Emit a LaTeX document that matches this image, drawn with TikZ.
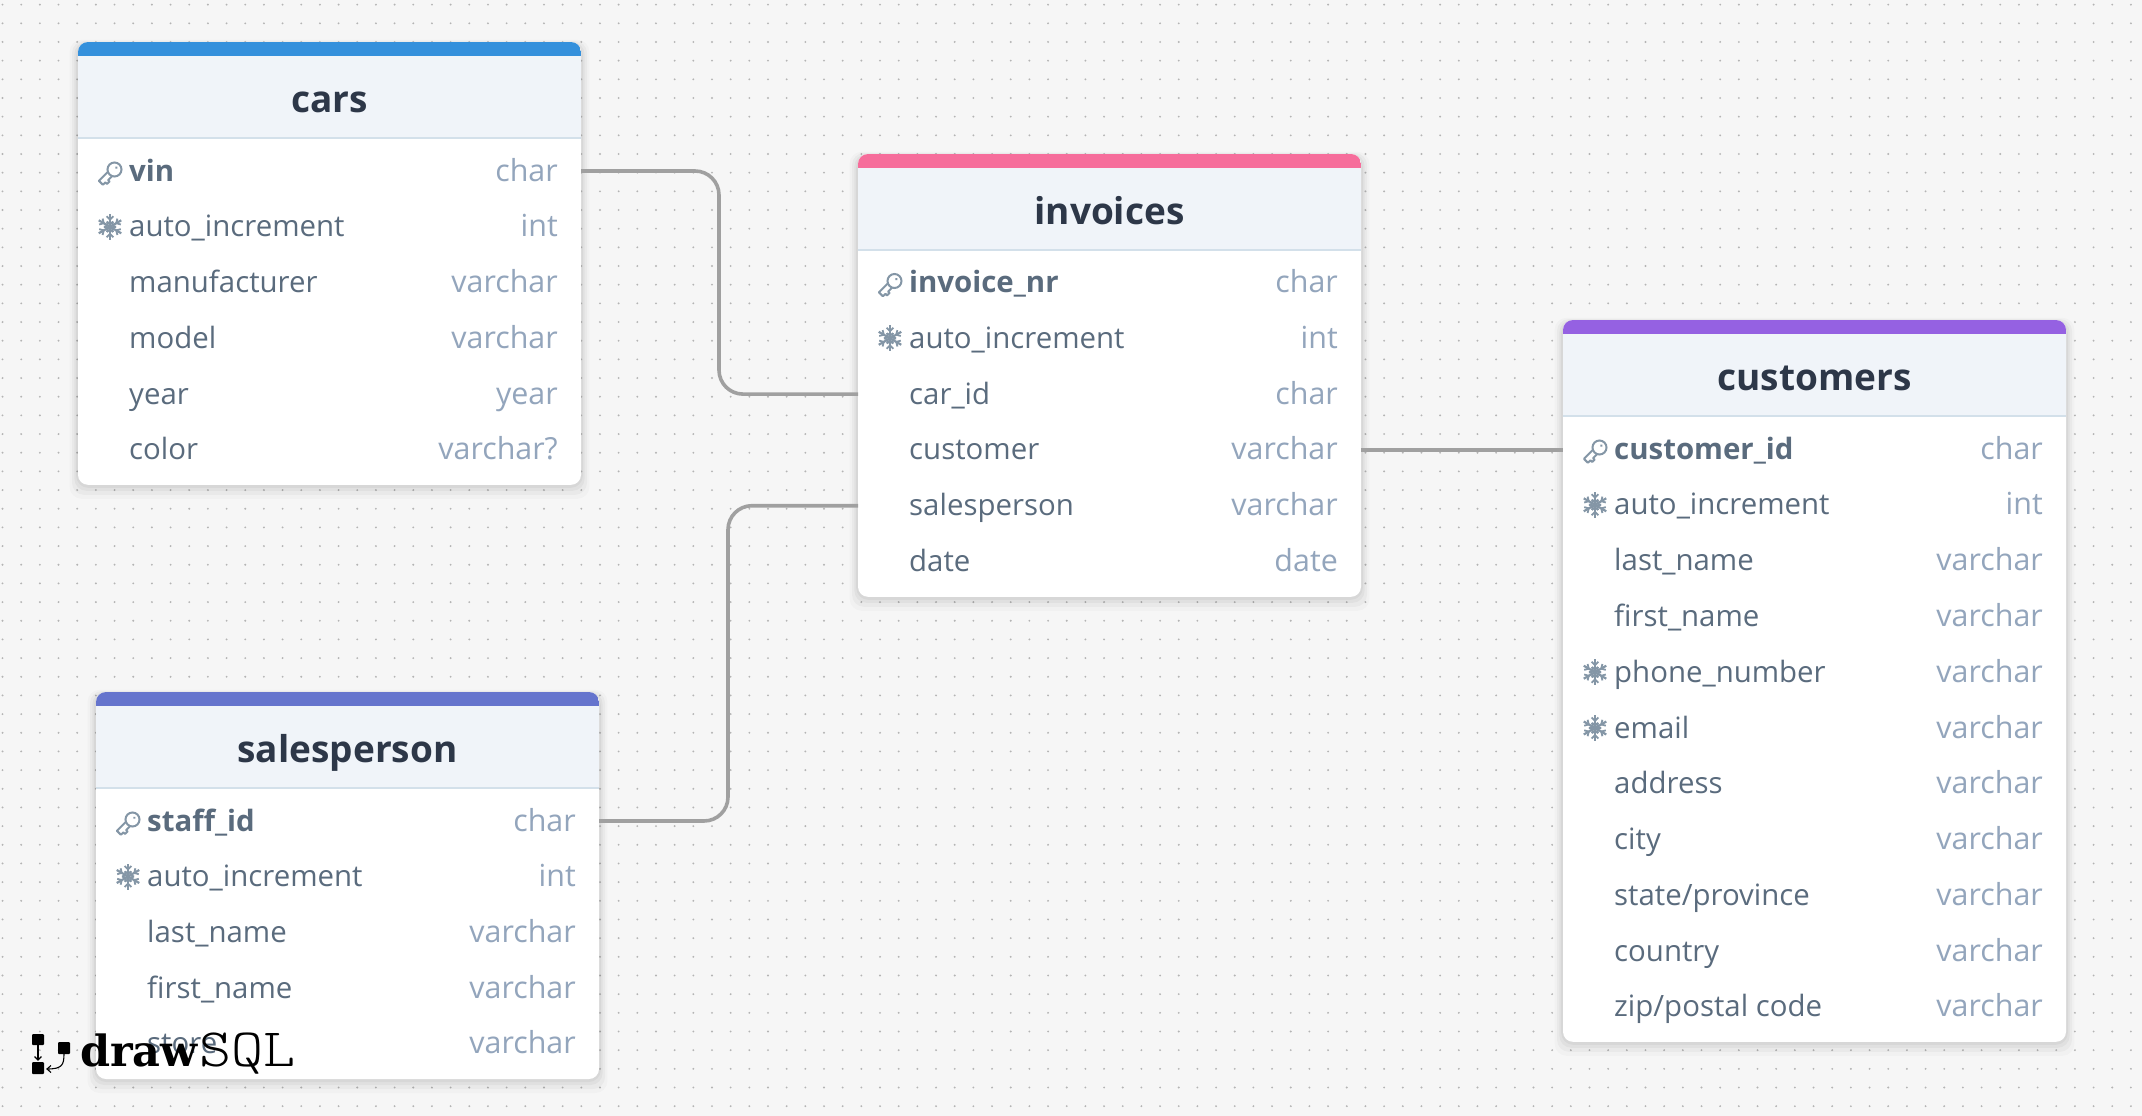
\documentclass[tikz,border=0pt]{standalone}
\usepackage{fontspec}
\usepackage{graphicx}
\setmainfont{Open Sans}
\newfontfamily\logofont{DejaVu Serif}
\usetikzlibrary{calc}
\definecolor{bgc}{HTML}{F6F6F6}
\definecolor{dotc}{HTML}{B4B4B4}
\definecolor{headc}{HTML}{F0F4F9}
\definecolor{linec}{HTML}{D3E0EA}
\definecolor{titlec}{HTML}{2D3748}
\definecolor{namec}{HTML}{5A6B7D}
\definecolor{typec}{HTML}{93A5BC}
\definecolor{iconc}{HTML}{8496A6}
\definecolor{connc}{HTML}{A0A0A0}
\definecolor{bandA}{HTML}{3490DC}
\definecolor{bandB}{HTML}{F66D9B}
\definecolor{bandC}{HTML}{9561E2}
\definecolor{bandD}{HTML}{6574CD}
\tikzset{
  x=1pt,y=-1pt,
  tablebox/.style={anchor=north west,minimum width=503pt,inner sep=0pt,outer sep=0pt,rounded corners=10pt,fill=white},
  rowbox/.style={anchor=west,minimum width=503pt,minimum height=40pt,inner sep=0pt,outer sep=0pt},
  rowname/.style={anchor=base west,inner sep=0pt,font=\fontsize{29.4pt}{31pt}\selectfont,text=namec},
  rowtype/.style={anchor=base east,inner sep=0pt,font=\fontsize{30.4pt}{31pt}\selectfont,text=typec},
  tabletitle/.style={anchor=base,inner sep=0pt,font=\fontsize{37pt}{40pt}\selectfont\bfseries,text=titlec},
  conn/.style={draw=connc,line width=3.6pt,rounded corners=24pt},
  keyicon/.pic={
    \begin{scope}[shift={(4.5,-1.5)},rotate=225]
      \draw[iconc,line width=2pt] (0,0) circle[radius=7];
      \draw[iconc,line width=2pt,line join=round]
        (6.2,3) -- (19,3) -- (19,-2.6) -- (15.5,-2.6) -- (15.5,-5) -- (12,-5) -- (12,-3) -- (6.2,-3);
      \fill[iconc] (-2.5,0) circle[radius=1.4];
    \end{scope}
  },
  flakeicon/.pic={
    \foreach \a in {90,150,210,270,330,30}{
      \begin{scope}[rotate=\a]
        \draw[iconc,line width=2.2pt] (0,0) -- (13,0);
        \draw[iconc,line width=1.8pt] (2.5,0) -- (5.2,-3) (2.5,0) -- (5.2,3);
        \draw[iconc,line width=1.8pt] (7.2,0) -- (10.5,-3.4) (7.2,0) -- (10.5,3.4);
      \end{scope}
    }
  },
}
% \dbtable{name}{x}{y}{colour}{title}{number of rows}
\newcommand{\dbtable}[6]{%
  \begin{scope}
    \foreach \s/\o in {14/.02,10/.03,6/.035,3/.04}{
      \fill[black,opacity=\o,rounded corners=12pt] ($(#2,#3)+(-\s*.6,-\s*.3+2)$) rectangle ($(#2+503,#3+108+#6*55.8)+(\s*.6,\s)$);
    }
  \end{scope}
  \node[tablebox,minimum height=#6*55.8pt+108pt] (#1) at (#2,#3) {};
  \begin{scope}
    \clip[rounded corners=10pt] (#2,#3) rectangle (#2+503,#3+60);
    \fill[#4] (#2,#3) rectangle (#2+503,#3+14);
  \end{scope}
  \fill[headc] (#2,#3+14) rectangle (#2+503,#3+96);
  \draw[linec,line width=1.3pt] (#2,#3+96) -- (#2+503,#3+96);
  \node[tabletitle] (#1-title) at (#2+251.5,#3+70.5) {#5};
}
% \dbrow{table}{n}{x}{y}{name}{type}{icon pic or none}
\newcommand{\dbrow}[7]{%
  \node[rowbox] (#1-r#2) at (#3,#4) {};
  \node[rowname] (#1-n#2) at ($(#3+51,#4+10)$) {#5};
  \node[rowtype] (#1-t#2) at ($(#3+480,#4+10)$) {#6};
  \ifx#7\relax\else\pic at (#3+32,#4) {#7};\fi
}
\begin{document}
\begin{tikzpicture}
\useasboundingbox (0,0) rectangle (2142,1116);
\fill[bgc] (0,0) rectangle (2142,1116);
\foreach \j in {-8,...,51}{
  \draw[dotc,line width=2.1pt,line cap=round,dash pattern=on 0pt off 18.67pt] (2.53,154+\j*18.67) -- (2142,154+\j*18.67);
}

% cars
\dbtable{cars}{78}{42}{bandA}{cars}{6}
\dbrow{cars}{1}{78}{171}{\bfseries vin}{char}{keyicon}
\dbrow{cars}{2}{78}{226.8}{auto\_increment}{int}{flakeicon}
\dbrow{cars}{3}{78}{282.6}{manufacturer}{varchar}{\relax}
\dbrow{cars}{4}{78}{338.4}{model}{varchar}{\relax}
\dbrow{cars}{5}{78}{394.2}{year}{year}{\relax}
\dbrow{cars}{6}{78}{449.5}{color}{varchar?}{\relax}

% invoices
\dbtable{invoices}{858}{154}{bandB}{invoices}{6}
\dbrow{invoices}{1}{858}{282.5}{\bfseries invoice\_nr}{char}{keyicon}
\dbrow{invoices}{2}{858}{338.3}{auto\_increment}{int}{flakeicon}
\dbrow{invoices}{3}{858}{394.1}{car\_id}{char}{\relax}
\dbrow{invoices}{4}{858}{449.9}{customer}{varchar}{\relax}
\dbrow{invoices}{5}{858}{505.7}{salesperson}{varchar}{\relax}
\dbrow{invoices}{6}{858}{561.5}{date}{date}{\relax}

% customers
\dbtable{customers}{1563}{320}{bandC}{customers}{11}
\dbrow{customers}{1}{1563}{449}{\bfseries customer\_id}{char}{keyicon}
\dbrow{customers}{2}{1563}{504.8}{auto\_increment}{int}{flakeicon}
\dbrow{customers}{3}{1563}{560.6}{last\_name}{varchar}{\relax}
\dbrow{customers}{4}{1563}{616.4}{first\_name}{varchar}{\relax}
\dbrow{customers}{5}{1563}{672.2}{phone\_number}{varchar}{flakeicon}
\dbrow{customers}{6}{1563}{728}{email}{varchar}{flakeicon}
\dbrow{customers}{7}{1563}{783.8}{address}{varchar}{\relax}
\dbrow{customers}{8}{1563}{839.6}{city}{varchar}{\relax}
\dbrow{customers}{9}{1563}{895.4}{state/province}{varchar}{\relax}
\dbrow{customers}{10}{1563}{951.2}{country}{varchar}{\relax}
\dbrow{customers}{11}{1563}{1006.5}{zip/postal code}{varchar}{\relax}

% salesperson
\dbtable{salesperson}{96}{692}{bandD}{salesperson}{5}
\dbrow{salesperson}{1}{96}{821}{\bfseries staff\_id}{char}{keyicon}
\dbrow{salesperson}{2}{96}{876.5}{auto\_increment}{int}{flakeicon}
\dbrow{salesperson}{3}{96}{932.3}{last\_name}{varchar}{\relax}
\dbrow{salesperson}{4}{96}{988.1}{first\_name}{varchar}{\relax}
\dbrow{salesperson}{5}{96}{1043.9}{store}{varchar}{\relax}

% connectors
\draw[conn] (cars-r1.east) -- ([xshift=138pt]cars-r1.east) |- (invoices-r3.west);
\draw[conn] (salesperson-r1.east) -- ([xshift=129pt]salesperson-r1.east) |- (invoices-r5.west);
\draw[conn] (invoices-r4.east) -- (invoices-r4.east -| customers.west);

% logo
\fill[black,rounded corners=1pt] (32,1034) rectangle (44,1045);
\fill[black,rounded corners=1pt] (32,1062) rectangle (44,1074);
\fill[black,rounded corners=1pt] (58,1042) rectangle (70,1054);
\draw[black,line width=1.1pt] (38,1045) -- (38,1060);
\draw[black,line width=1.1pt] (34.5,1056.5) -- (38,1060) -- (41.5,1056.5);
\draw[black,line width=1.1pt] (64,1054) .. controls (64,1065) and (62,1069) .. (47,1069);
\draw[black,line width=1.1pt] (51,1065.5) -- (47,1069) -- (51,1072.5);
\node[anchor=base west,inner sep=0pt,font=\fontsize{43pt}{45pt}\selectfont\logofont\bfseries,text=black] (logodraw) at (80,1066) {draw};
\node[anchor=base west,inner sep=0pt,font=\fontsize{54pt}{54pt}\ttfamily\fontseries{l}\selectfont,text=black] (logosql) at (199,1066) {\scalebox{1.13}[1]{SQL}};
\end{tikzpicture}
\end{document}
